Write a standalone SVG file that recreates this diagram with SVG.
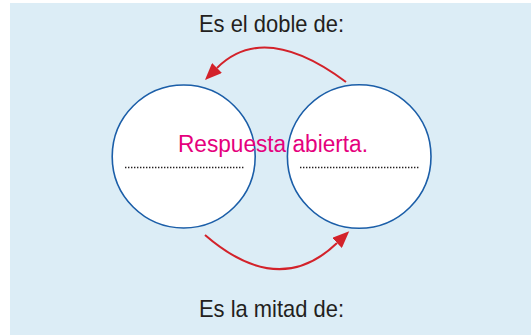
<svg xmlns="http://www.w3.org/2000/svg" width="531" height="336" viewBox="0 0 531 336">
  <style>
    .node { fill: #ffffff; stroke: #1b5ea8; stroke-width: 1.6; }
    .dots { stroke: #231f20; stroke-width: 1.6; stroke-dasharray: 1.4 1.6; fill: none; }
    .label { font-family: "Liberation Sans", Arial, sans-serif; font-size: 24px; fill: #231f20; }
    .answer { font-family: "Liberation Sans", Arial, sans-serif; font-size: 23px; fill: #e5007d; }
    .conn { fill: none; stroke: #d3222a; stroke-width: 2; }
  </style>
  <defs>
    <marker id="arrow" markerUnits="userSpaceOnUse" viewBox="0 0 17 14" refX="0" refY="7" markerWidth="17" markerHeight="14" orient="auto">
      <path d="M0,0 L17,7 L0,14 z" fill="#d3222a"/>
    </marker>
  </defs>
  <rect x="10" y="3" width="521" height="332" fill="#dcedf6"/>
  <g id="label-top">
    <text class="label" x="199" y="32" textLength="145" lengthAdjust="spacingAndGlyphs">Es el doble de:</text>
  </g>
  <g id="label-bottom">
    <text class="label" x="199" y="316.5" textLength="145" lengthAdjust="spacingAndGlyphs">Es la mitad de:</text>
  </g>
  <g id="connectors">
    <path class="conn" d="M346,82 Q264,21 217,68" marker-end="url(#arrow)"/>
    <path class="conn" d="M205,235 Q279,299 337,243" marker-end="url(#arrow)"/>
  </g>
  <g id="node-left">
    <circle class="node" cx="183.7" cy="156.5" r="71.5"/>
    <line class="dots" x1="125" y1="167.5" x2="244" y2="167.5"/>
  </g>
  <g id="node-right">
    <circle class="node" cx="359.2" cy="156.5" r="71.8"/>
    <line class="dots" x1="300" y1="167.5" x2="420" y2="167.5"/>
  </g>
  <g id="answer">
    <text class="answer" x="178" y="151.5" textLength="190" lengthAdjust="spacingAndGlyphs">Respuesta abierta.</text>
  </g>
</svg>
